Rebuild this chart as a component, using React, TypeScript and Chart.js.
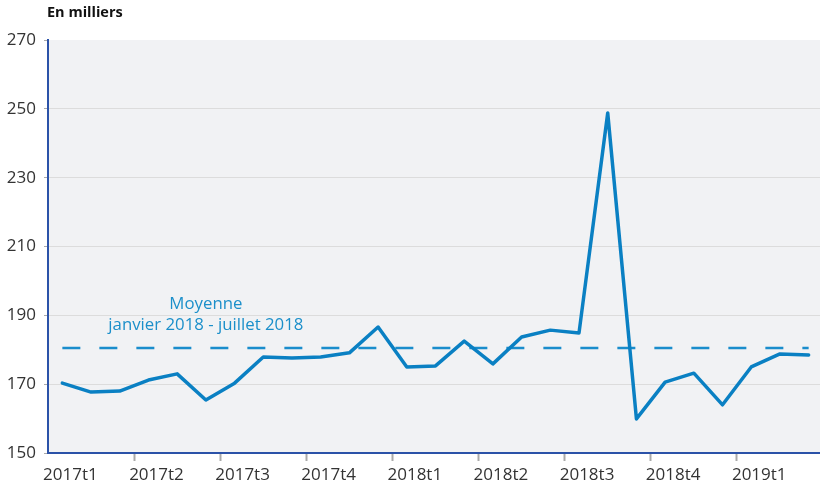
import React, { useEffect, useRef } from "react";
import { Chart, registerables } from "chart.js";

Chart.register(...registerables);

const months: string[] = [
  "2017-01", "2017-02", "2017-03", "2017-04", "2017-05", "2017-06", "2017-07", "2017-08", "2017-09",
  "2017-10", "2017-11", "2017-12", "2018-01", "2018-02", "2018-03", "2018-04", "2018-05", "2018-06",
  "2018-07", "2018-08", "2018-09", "2018-10", "2018-11", "2018-12", "2019-01", "2019-02", "2019-03",
];
const quarterLabels: string[] = [
  "2017t1", "2017t2", "2017t3", "2017t4", "2018t1", "2018t2", "2018t3", "2018t4", "2019t1",
];
const values: number[] = [
  170.3, 167.7, 168.0, 171.2, 173.0, 165.4, 170.3, 177.9, 177.6,
  177.9, 179.1, 186.6, 175.0, 175.3, 182.5, 175.9, 183.7, 185.7,
  184.9, 248.8, 159.9, 170.6, 173.2, 164.0, 175.0, 178.8, 178.5,
];
const averageValue = 180.5;
const averageLines: string[] = ["Moyenne", "janvier 2018 - juillet 2018"];
const unitTitle = "En milliers";
const yMin = 150;
const yMax = 270;
const yStep = 20;

const FONT = "'Open Sans', sans-serif";

export default function App() {
  const ref = useRef<HTMLCanvasElement>(null);

  useEffect(() => {
    if (!ref.current) return;
    const bgPlugin = {
      id: "bg",
      beforeDraw(chart: any) {
        const { ctx, chartArea } = chart;
        ctx.save();
        ctx.fillStyle = "#f1f2f4";
        ctx.fillRect(chartArea.left, chartArea.top, chartArea.right - chartArea.left, chartArea.bottom - chartArea.top);
        ctx.restore();
      },
      afterDraw(chart: any) {
        const { ctx, chartArea, scales } = chart;
        ctx.save();
        ctx.fillStyle = "#111";
        ctx.font = `bold 14.5px ${FONT}`;
        ctx.textAlign = "left";
        ctx.textBaseline = "middle";
        ctx.fillText(unitTitle, chartArea.left - 1, 13);
        ctx.fillStyle = "#1b8fca";
        ctx.font = `16.8px ${FONT}`;
        ctx.textAlign = "center";
        const x = scales.x.getPixelForValue(5);
        const yAvg = scales.y.getPixelForValue(averageValue);
        ctx.fillText(averageLines[0], x, yAvg - 44);
        ctx.fillText(averageLines[1], x, yAvg - 23);
        ctx.restore();
      },
    };

    const chart = new Chart(ref.current, {
      type: "line",
      data: {
        labels: months,
        datasets: [
          {
            data: values,
            borderColor: "#0a80c3",
            borderWidth: 3.5,
            borderJoinStyle: "round",
            borderCapStyle: "round",
            pointRadius: 0,
            tension: 0,
            order: 1,
          },
          {
            data: months.map(() => averageValue),
            borderColor: "#1a8dcc",
            borderWidth: 2.5,
            borderDash: [18, 19],
            pointRadius: 0,
            tension: 0,
            order: 2,
          },
        ],
      },
      options: {
        animation: false,
        responsive: false,
        devicePixelRatio: 1,
        layout: { padding: { top: 40, left: 0, right: 1, bottom: 0 } },
        plugins: { legend: { display: false }, tooltip: { enabled: false }, title: { display: false } },
        scales: {
          x: {
            type: "category",
            offset: true,
            border: { color: "#2b52a8", width: 2 },
            grid: {
              offset: true,
              drawOnChartArea: false,
              drawTicks: true,
              tickLength: 8,
              tickColor: (c: any) => (c.index > 0 && c.index % 3 === 0 && c.index < 27 ? "#aaa" : "rgba(0,0,0,0)"),
              tickWidth: 2,
            },
            ticks: {
              autoSkip: false,
              maxRotation: 0,
              labelOffset: 8,
              padding: 4,
              color: "#333",
              font: { family: FONT, size: 17 },
              callback: (_v: any, i: number) => (i % 3 === 0 ? quarterLabels[i / 3] : ""),
            },
            afterFit: (s: any) => {
              s.height = 31;
            },
          },
          y: {
            min: yMin,
            max: yMax,
            border: { color: "#2b52a8", width: 2 },
            grid: {
              color: (c: any) => (c.tick && (c.tick.value === yMax || c.tick.value === yMin) ? "rgba(0,0,0,0)" : "#dcdcdc"),
              tickColor: "#aaa",
              tickLength: 4,
              lineWidth: 1,
            },
            ticks: {
              stepSize: yStep,
              padding: 8,
              color: "#333",
              font: { family: FONT, size: 17 },
            },
            afterFit: (s: any) => {
              s.width = 48;
            },
          },
        },
      },
      plugins: [bgPlugin],
    });
    return () => chart.destroy();
  }, []);

  return (
    <div style={{ position: "fixed", left: 0, top: 0, width: 824, height: 484, background: "#fff" }}>
      <canvas ref={ref} width={824} height={484} style={{ width: 824, height: 484, display: "block" }} />
    </div>
  );
}
